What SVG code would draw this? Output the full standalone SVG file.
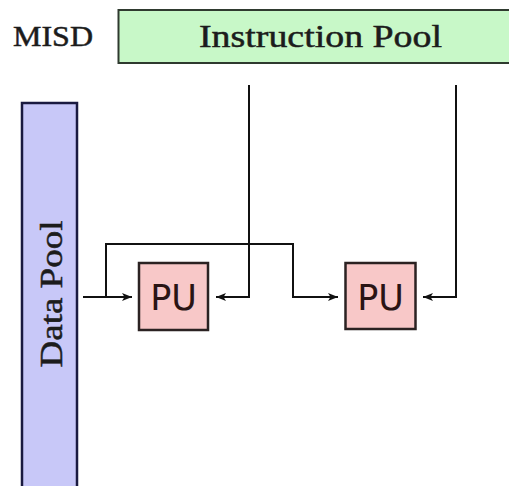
<svg xmlns="http://www.w3.org/2000/svg" width="509" height="486" viewBox="0 0 509 486">
  <style>
    .serif { font-family: "Liberation Serif", "Times New Roman", "DejaVu Serif", serif; fill: #1c1c1c; stroke: #1c1c1c; stroke-width: 0.5; }
    .sans { font-family: "DejaVu Sans", "Liberation Sans", sans-serif; fill: #2a1414; }
    .wire { fill: none; stroke: #111; stroke-width: 2; }
    .pu { fill: #f8c8c8; stroke: #2b2222; stroke-width: 2.5; }
  </style>
  <defs>
    <marker id="arrow" viewBox="0 0 10 8" refX="10" refY="4" markerWidth="10" markerHeight="8" markerUnits="userSpaceOnUse" orient="auto">
      <path d="M0,0 L10,4 L0,8 L2.5,4 z" fill="#111"/>
    </marker>
  </defs>
  <rect width="509" height="486" fill="#ffffff"/>

  <!-- title -->
  <text id="title" class="serif" x="13" y="46" font-size="30" textLength="80" lengthAdjust="spacingAndGlyphs">MISD</text>

  <!-- instruction pool -->
  <g id="instruction-pool">
    <rect x="118.5" y="10" width="400" height="53" fill="#c8f8c8" stroke="#2f3a2f" stroke-width="2"/>
    <text class="serif" x="199" y="47" font-size="31" textLength="243" lengthAdjust="spacingAndGlyphs">Instruction Pool</text>
  </g>

  <!-- data pool -->
  <g id="data-pool">
    <rect x="22" y="103" width="55" height="400" fill="#c8c8f8" stroke="#1a1a40" stroke-width="2.5"/>
    <text class="serif" transform="translate(62 294) rotate(-90)" x="0" y="0" font-size="31" text-anchor="middle" textLength="147" lengthAdjust="spacingAndGlyphs">Data Pool</text>
  </g>

  <!-- processing units -->
  <g id="pu-1">
    <rect class="pu" x="139" y="263" width="69" height="67"/>
    <text class="sans" x="173.5" y="310" font-size="35" text-anchor="middle">PU</text>
  </g>
  <g id="pu-2">
    <rect class="pu" x="345.5" y="263" width="70" height="66"/>
    <text class="sans" x="380.5" y="310" font-size="35" text-anchor="middle">PU</text>
  </g>

  <!-- connectors -->
  <g id="connectors">
    <path class="wire" d="M83,297 H132" marker-end="url(#arrow)"/>
    <path class="wire" d="M106,297 V244 H293 V297 H338" marker-end="url(#arrow)"/>
    <path class="wire" d="M249,85 V297 H216" marker-end="url(#arrow)"/>
    <path class="wire" d="M456,85 V297 H423" stroke-width="3" marker-end="url(#arrow)"/>
  </g>
</svg>
